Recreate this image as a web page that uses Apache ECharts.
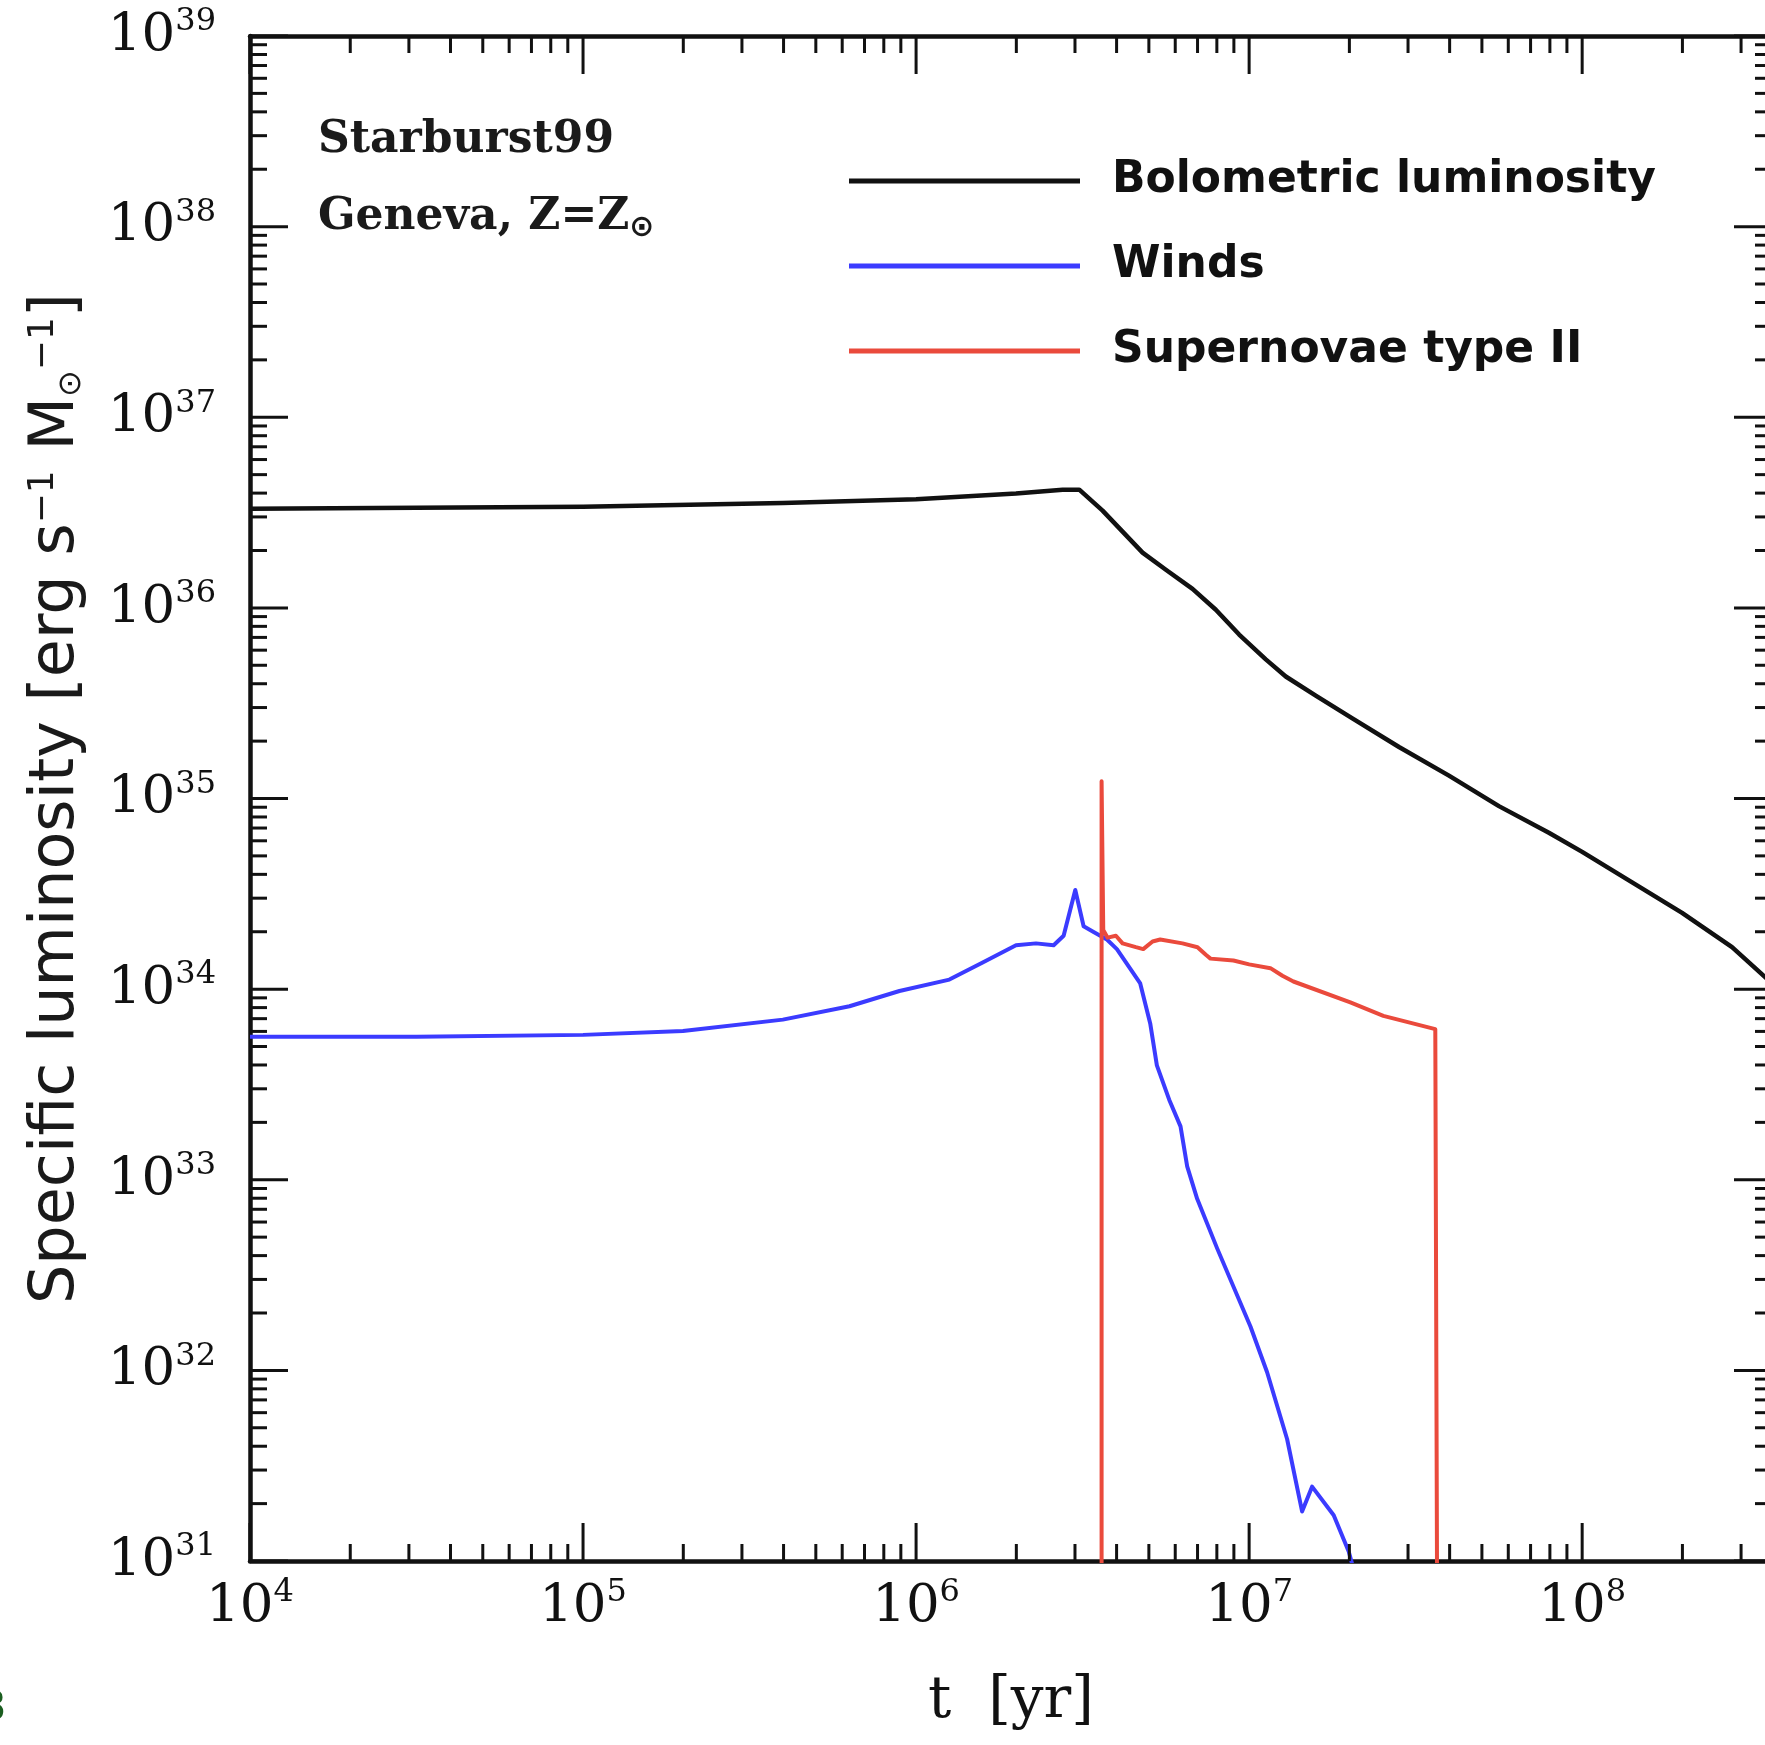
<!DOCTYPE html>
<html>
<head>
<meta charset="utf-8">
<script src="https://cdn.jsdelivr.net/npm/echarts@6/dist/echarts.min.js"></script>
<style>
  html, body { margin: 0; padding: 0; background: #ffffff; }
  #chart { width: 1765px; height: 1745px; }
</style>
</head>
<body>
<div id="chart"></div>
<script>
// Starburst99 specific luminosity vs. age (Geneva tracks, Z = Z_sun).
// Curves as log10 pairs: [log t/yr] and [log L].

const X_MIN_EXP = 4, X_MAX_EXP = 8.57;
const Y_MIN_EXP = 31, Y_MAX_EXP = 39;

const xDecades = [4, 5, 6, 7, 8];
const yDecades = [31, 32, 33, 34, 35, 36, 37, 38, 39];
const minorSteps = [2, 3, 4, 5, 6, 7, 8, 9];

// Bolometric luminosity
const bolLogT = [4.0, 5.0, 5.6, 6.0, 6.3, 6.44, 6.49, 6.56, 6.62, 6.68, 6.75, 6.83, 6.90, 6.97,
                 7.05, 7.11, 7.20, 7.31, 7.45, 7.60, 7.75, 7.90, 8.00, 8.15, 8.30, 8.45, 8.57];
const bolLogL = [36.52, 36.53, 36.55, 36.57, 36.60, 36.62, 36.62, 36.51, 36.40, 36.29, 36.20, 36.10, 35.99, 35.86,
                 35.73, 35.64, 35.54, 35.42, 35.27, 35.12, 34.96, 34.82, 34.72, 34.56, 34.40, 34.22, 34.03];

// Winds
const windLogT = [4.0, 4.5, 5.0, 5.3, 5.6, 5.8, 5.95, 6.1, 6.2, 6.3, 6.36, 6.413, 6.443, 6.478, 6.503,
                  6.533, 6.573, 6.603, 6.673, 6.703, 6.723, 6.76, 6.794, 6.814, 6.844, 6.904, 7.004,
                  7.054, 7.114, 7.159, 7.189, 7.254, 7.299, 7.31];
const windLogL = [33.75, 33.75, 33.76, 33.78, 33.84, 33.91, 33.99, 34.05, 34.14, 34.23, 34.24, 34.23, 34.28, 34.52, 34.33,
                  34.30, 34.26, 34.21, 34.03, 33.82, 33.60, 33.42, 33.28, 33.07, 32.90, 32.64, 32.23,
                  31.99, 31.64, 31.26, 31.39, 31.24, 31.05, 30.98];

// Supernovae type II
const snLogT = [6.557, 6.557, 6.562, 6.575, 6.60, 6.62, 6.66, 6.682, 6.71, 6.733, 6.80, 6.845, 6.87,
                6.884, 6.953, 7.00, 7.064, 7.10, 7.133, 7.304, 7.403, 7.559, 7.565];
const snLogL = [30.5, 35.09, 34.31, 34.27, 34.28, 34.24, 34.22, 34.21, 34.25, 34.26, 34.24, 34.22, 34.18,
                34.16, 34.15, 34.13, 34.11, 34.07, 34.04, 33.93, 33.86, 33.79, 30.5];

const X_MIN = Math.pow(10, X_MIN_EXP), X_MAX = Math.pow(10, X_MAX_EXP);
const Y_MIN = Math.pow(10, Y_MIN_EXP), Y_MAX = Math.pow(10, Y_MAX_EXP);

const toPoints = (lt, ll) => lt.map((t, i) => [Math.pow(10, t), Math.pow(10, ll[i])]);

// tick rows: [x, y, axis (0 = x, 1 = y), major]
const tickData = [];
for (const d of xDecades) {
  tickData.push([Math.pow(10, d), Y_MIN, 0, 1]);
  for (const m of minorSteps) {
    const v = m * Math.pow(10, d);
    if (Math.log10(v) <= X_MAX_EXP) tickData.push([v, Y_MIN, 0, 0]);
  }
}
for (const d of yDecades) {
  tickData.push([X_MIN, Math.pow(10, d), 1, 1]);
  if (d === Y_MAX_EXP) continue;
  for (const m of minorSteps) tickData.push([X_MIN, m * Math.pow(10, d), 1, 0]);
}

const MAJOR_LEN = 38, MINOR_LEN = 17;
function renderTicks(params, api) {
  const cs = params.coordSys;
  const len = api.value(3) ? MAJOR_LEN : MINOR_LEN;
  const style = { stroke: '#111', lineWidth: 3 };
  if (api.value(2) === 0) {
    const px = api.coord([api.value(0), Y_MIN])[0];
    return { type: 'group', children: [
      { type: 'line', shape: { x1: px, y1: cs.y + cs.height, x2: px, y2: cs.y + cs.height - len }, style },
      { type: 'line', shape: { x1: px, y1: cs.y, x2: px, y2: cs.y + len }, style }
    ] };
  }
  const py = api.coord([X_MIN, api.value(1)])[1];
  return { type: 'group', children: [
    { type: 'line', shape: { x1: cs.x, y1: py, x2: cs.x + len, y2: py }, style },
    { type: 'line', shape: { x1: cs.x + cs.width, y1: py, x2: cs.x + cs.width - len, y2: py }, style }
  ] };
}

function powerLabel(value) {
  const e = Math.log10(value);
  const r = Math.round(e);
  if (Math.abs(e - r) > 1e-6) return '';
  return '{b|10}{e|' + r + '}';
}

const labelRich = {
  b: { fontFamily: 'DejaVu Serif', fontSize: 53, color: '#111', lineHeight: 60 },
  e: { fontFamily: 'DejaVu Serif', fontSize: 32, color: '#111', lineHeight: 32, verticalAlign: 'top' }
};

const frame = { show: true, onZero: false, lineStyle: { color: '#111', width: 4.5 } };

const chart = echarts.init(document.getElementById('chart'), null, { renderer: 'canvas' });

chart.setOption({
  animation: false,
  backgroundColor: '#ffffff',
  grid: {
    left: 250, top: 36, right: -7, bottom: 184,
    containLabel: false, outerBoundsMode: 'none'
  },
  legend: {
    orient: 'vertical',
    left: 844, top: 151,
    icon: 'rect',
    itemWidth: 231, itemHeight: 5, itemGap: 35,
    selectedMode: false,
    textStyle: {
      fontFamily: 'DejaVu Sans', fontWeight: 'bold', fontSize: 44, color: '#111',
      lineHeight: 50, padding: [0, 0, 0, 27]
    },
    data: ['Bolometric luminosity', 'Winds', 'Supernovae type II']
  },
  xAxis: [{
    type: 'log', logBase: 10, min: X_MIN, max: X_MAX,
    position: 'bottom',
    name: 't  [yr]', nameLocation: 'middle', nameGap: 112,
    nameTextStyle: { fontFamily: 'DejaVu Serif', fontSize: 58, color: '#111' },
    axisLine: frame,
    axisTick: { show: false }, splitLine: { show: false }, minorTick: { show: false },
    axisLabel: { margin: 16, formatter: powerLabel, rich: labelRich }
  }, {
    type: 'log', logBase: 10, min: X_MIN, max: X_MAX, position: 'top',
    axisLine: frame, axisTick: { show: false }, axisLabel: { show: false }, splitLine: { show: false }
  }],
  yAxis: [{
    type: 'log', logBase: 10, min: Y_MIN, max: Y_MAX,
    position: 'left',
    name: 'Specific luminosity [erg s{sup|\u22121} M{sub|\u2299}{sup|\u22121}]',
    nameLocation: 'middle', nameGap: 162, nameRotate: 90,
    nameTextStyle: {
      fontFamily: 'DejaVu Sans', fontSize: 62, color: '#1a1a1a',
      rich: {
        sup: { fontFamily: 'DejaVu Sans', fontSize: 36, color: '#1a1a1a', verticalAlign: 'top', lineHeight: 32 },
        sub: { fontFamily: 'DejaVu Sans', fontSize: 32, color: '#1a1a1a', verticalAlign: 'bottom', lineHeight: 32 }
      }
    },
    axisLine: frame,
    axisTick: { show: false }, splitLine: { show: false }, minorTick: { show: false },
    axisLabel: { margin: 34, formatter: powerLabel, rich: labelRich }
  }, {
    type: 'log', logBase: 10, min: Y_MIN, max: Y_MAX, position: 'right',
    axisLine: frame, axisTick: { show: false }, axisLabel: { show: false }, splitLine: { show: false }
  }],
  graphic: [
    {
      type: 'text', left: 318, top: 119,
      style: { text: 'Starburst99', font: 'bold 44px "DejaVu Serif"', fill: '#1a1a1a' }
    },
    {
      type: 'text', left: 318, top: 196,
      style: {
        text: 'Geneva, Z=Z{s|\u2299}', font: 'bold 44px "DejaVu Serif"', fill: '#1a1a1a',
        rich: { s: { font: 'bold 30px "DejaVu Sans"', fill: '#1a1a1a', verticalAlign: 'bottom', padding: [20, 0, 0, 0] } }
      }
    },
    {
      type: 'text', left: -19, top: 1690,
      style: { text: '3', font: '40px "DejaVu Sans"', fill: '#1b5e20' }
    }
  ],
  series: [
    {
      name: 'Bolometric luminosity', type: 'line', xAxisIndex: 0, yAxisIndex: 0,
      data: toPoints(bolLogT, bolLogL), symbol: 'none', showSymbol: false, clip: true, z: 3,
      lineStyle: { color: '#111111', width: 4.5, join: 'round' }, itemStyle: { color: '#111111' }
    },
    {
      name: 'Winds', type: 'line', xAxisIndex: 0, yAxisIndex: 0,
      data: toPoints(windLogT, windLogL), symbol: 'none', showSymbol: false, clip: true, z: 3,
      lineStyle: { color: '#3b3bff', width: 4, join: 'round' }, itemStyle: { color: '#3b3bff' }
    },
    {
      name: 'Supernovae type II', type: 'line', xAxisIndex: 0, yAxisIndex: 0,
      data: toPoints(snLogT, snLogL), symbol: 'none', showSymbol: false, clip: true, z: 4,
      lineStyle: { color: '#ea4a3c', width: 4, join: 'round' }, itemStyle: { color: '#ea4a3c' }
    },
    {
      name: 'ticks', type: 'custom', xAxisIndex: 0, yAxisIndex: 0,
      data: tickData, renderItem: renderTicks, clip: false, silent: true, z: 5,
      encode: { x: 0, y: 1 }
    }
  ]
});
</script>
</body>
</html>
